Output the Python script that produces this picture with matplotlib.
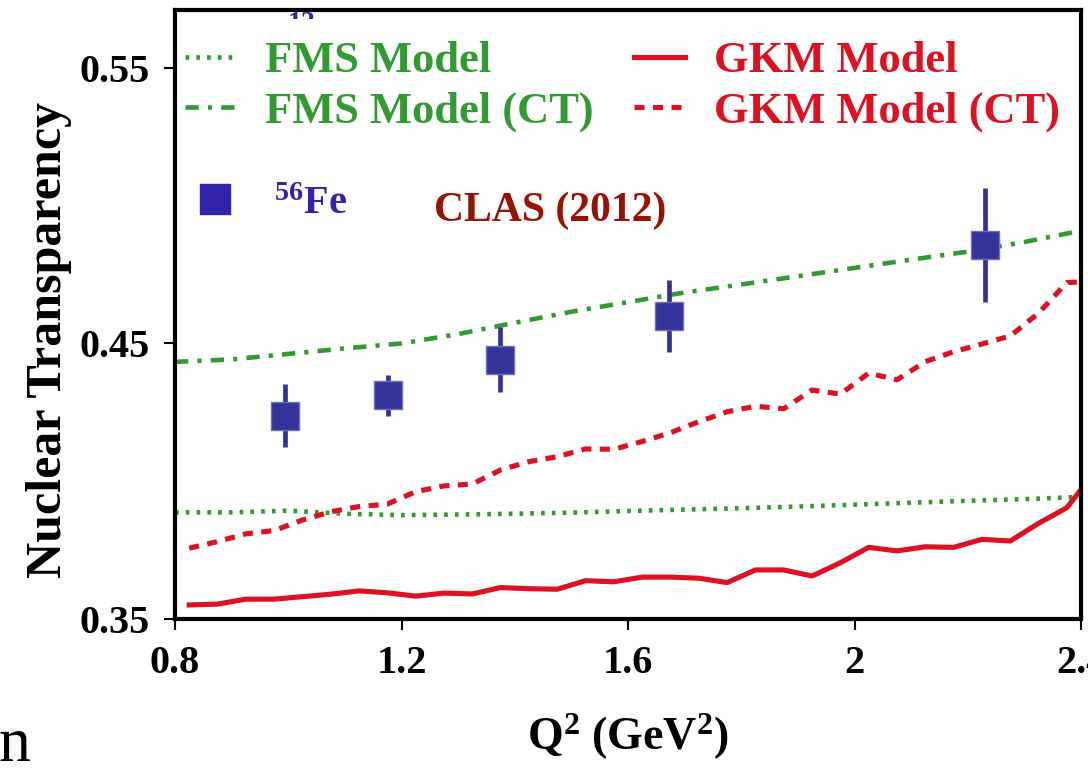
import matplotlib
matplotlib.use("Agg")
import matplotlib.pyplot as plt
from matplotlib.lines import Line2D
from matplotlib.transforms import Bbox, TransformedBbox

plt.rcParams["font.family"] = "Liberation Serif"
plt.rcParams["font.weight"] = "bold"
plt.rcParams["axes.labelweight"] = "bold"
plt.rcParams["mathtext.fontset"] = "custom"
plt.rcParams["mathtext.rm"] = "Liberation Serif:bold"
plt.rcParams["mathtext.default"] = "rm"

# GKM model curves (0.05 GeV^2 grid)
q2_gkm = [0.825, 0.875, 0.925, 0.975, 1.025, 1.075, 1.125, 1.175, 1.225, 1.275,
          1.325, 1.375, 1.425, 1.475, 1.525, 1.575, 1.625, 1.675, 1.725, 1.775,
          1.825, 1.875, 1.925, 1.975, 2.025, 2.075, 2.125, 2.175, 2.225, 2.275,
          2.325, 2.375, 2.425]
t_gkm = [0.3551, 0.3554, 0.3572, 0.3572, 0.3581, 0.3590, 0.3602, 0.3595, 0.3583, 0.3594,
         0.3591, 0.3614, 0.3610, 0.3608, 0.3639, 0.3635, 0.3652, 0.3652, 0.3648, 0.3632,
         0.3678, 0.3678, 0.3656, 0.3704, 0.3760, 0.3747, 0.3762, 0.3760, 0.3789, 0.3783,
         0.3847, 0.3904, 0.4035]
t_gkm_ct = [0.3757, 0.3781, 0.3809, 0.3821, 0.3859, 0.3889, 0.3908, 0.3917, 0.3962, 0.3983,
            0.3990, 0.4041, 0.4071, 0.4089, 0.4117, 0.4116, 0.4144, 0.4176, 0.4216, 0.4252,
            0.4272, 0.4263, 0.4331, 0.4316, 0.4392, 0.4368, 0.4434, 0.4470, 0.4498, 0.4527,
            0.4610, 0.4721, 0.4725]

# FMS model curves
q2_fms = [0.8, 0.9, 1.0, 1.1, 1.2, 1.3, 1.4, 1.5, 1.6, 1.7, 1.8, 1.9, 2.0, 2.1, 2.2, 2.3, 2.4]
t_fms = [0.3887, 0.3887, 0.3893, 0.3882, 0.3877, 0.3879, 0.3882, 0.3886, 0.3892, 0.3897,
         0.3902, 0.3908, 0.3915, 0.3922, 0.3929, 0.3935, 0.3943]
t_fms_ct = [0.4433, 0.4442, 0.4462, 0.4482, 0.4500, 0.4534, 0.4575, 0.4615, 0.4650, 0.4685,
            0.4714, 0.4744, 0.4774, 0.4804, 0.4833, 0.4868, 0.4909]

# CLAS 56Fe data
q2_fe = [0.995, 1.177, 1.374, 1.673, 2.23]
t_fe = [0.4238, 0.4312, 0.4441, 0.4601, 0.4857]
err_fe = [0.0113, 0.0074, 0.0118, 0.0131, 0.0207]

green = "#339933"
red = "#dd1122"
blue = "#333399"

fig = plt.figure(figsize=(10.88, 7.73), dpi=100)
ax = fig.add_axes([175 / 1088, 1 - 619 / 773, 906 / 1088, 609 / 773])

ls_dot = (0, (0.8, 1.55))
ls_dashdot = (0, (2.9, 2.0, 0.9, 2.0))
ls_dash = (0, (1.95, 1.65))

ax.plot(q2_fms, t_fms, color=green, lw=3.3, ls=ls_dot)
ax.plot(q2_fms, t_fms_ct, color=green, lw=3.3, ls=ls_dashdot)
ax.plot(q2_gkm, t_gkm, color=red, lw=3.7)
ax.plot(q2_gkm, t_gkm_ct, color=red, lw=3.7, ls=ls_dash)
ax.errorbar(q2_fe, t_fe, yerr=err_fe, fmt="s", ms=20.5, color=blue, mec="#6f6fbb",
            mew=1, elinewidth=3.4, capsize=0, zorder=5)

ax.set_xlim(0.8, 2.4)
ax.set_ylim(0.35, 0.571)
ax.set_xticks([0.8, 1.2, 1.6, 2.0, 2.4])
ax.set_xticklabels(["0.8", "1.2", "1.6", "2", "2.4"])
ax.set_yticks([0.35, 0.45, 0.55])
ax.set_yticklabels(["0.35", "0.45", "0.55"])
ax.tick_params(direction="out", length=8, width=1.5, labelsize=29)
ax.tick_params(axis="x", pad=11)
ax.tick_params(axis="y", pad=10)
for s in ax.spines.values():
    s.set_linewidth(3)

ax.set_xlabel(r"Q$^{2}$ (GeV$^{2}$)", fontsize=33, fontweight="bold")
ax.xaxis.set_label_coords(0.5, -0.153)
ax.set_ylabel("Nuclear Transparency", fontsize=36, fontweight="bold")
ax.yaxis.set_label_coords(-0.114, 0.458)

handles = [
    Line2D([], [], color=green, lw=3.3, ls=ls_dot),
    Line2D([], [], color=green, lw=3.3, ls=ls_dashdot),
    Line2D([], [], color=red, lw=3.7),
    Line2D([], [], color=red, lw=3.7, ls=ls_dash),
]
labels = ["FMS Model", "FMS Model (CT)", "GKM Model", "GKM Model (CT)"]
leg1 = ax.legend(handles, labels, ncol=2, loc="upper left", bbox_to_anchor=(0.011, 0.949),
                 frameon=False, fontsize=32, handlelength=1.15, handletextpad=0.65,
                 columnspacing=0.9, labelspacing=0.24, borderpad=0, borderaxespad=0,
                 labelcolor="linecolor")
ax.add_artist(leg1)

h_fe = Line2D([], [], marker="s", ls="none", ms=21, color="#3322aa")
ax.legend([h_fe], [r"$^{56}$Fe"], loc="upper left", bbox_to_anchor=(0.011, 0.712),
          frameon=False, fontsize=29, handlelength=1.5, handletextpad=0.7,
          borderpad=0, borderaxespad=0, labelcolor="#3322aa")

ax.text(0.414, 0.67, "CLAS (2012)", transform=ax.transAxes, ha="center", va="center",
        color="#991100", fontsize=30)

# partly hidden label behind the legend
t12 = ax.text(0.14, 0.998, "12", transform=ax.transAxes, ha="center", va="top",
              color="#3322aa", fontsize=20)
t12.set_clip_box(TransformedBbox(Bbox([[0, 0.985], [1, 1]]), ax.transAxes))
t12.set_clip_on(True)

fig.text(-0.001, 1 - 761 / 773, "n", fontsize=46, fontweight="normal", va="baseline")

fig.savefig("out.png", dpi=100)
